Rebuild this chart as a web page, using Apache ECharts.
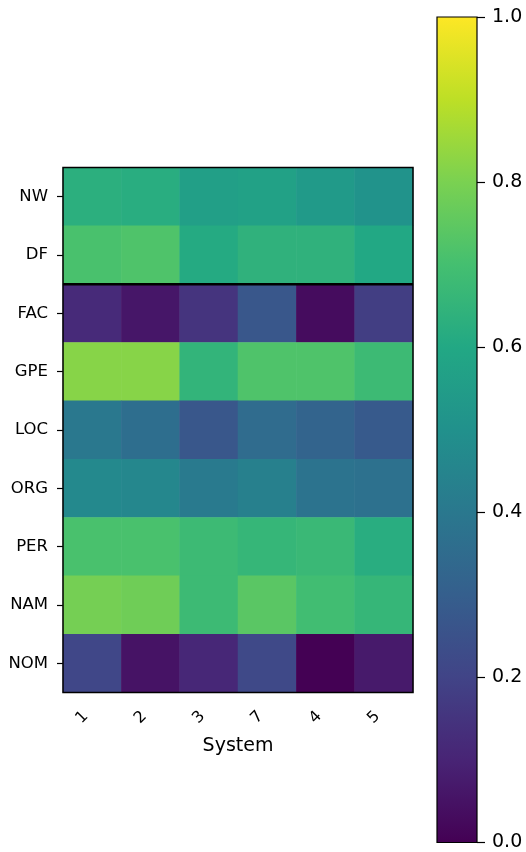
<!DOCTYPE html>
<html><head><meta charset="utf-8">
<script src="https://cdn.jsdelivr.net/npm/echarts@6/dist/echarts.min.js"></script>
<style>html,body{margin:0;padding:0;background:#fff}#c{width:526px;height:852px}</style>
</head><body><div id="c"></div>
<script>
const systems = ['1','2','3','7','4','5'];
const rows = ['NW','DF','FAC','GPE','LOC','ORG','PER','NAM','NOM'];
const NW  = [0.63,0.62,0.56,0.57,0.54,0.51];
const DF  = [0.71,0.72,0.61,0.64,0.64,0.60];
const FAC = [0.12,0.06,0.15,0.27,0.03,0.18];
const GPE = [0.82,0.82,0.65,0.72,0.72,0.68];
const LOC = [0.40,0.36,0.27,0.35,0.32,0.28];
const ORG = [0.47,0.46,0.41,0.43,0.38,0.37];
const PER = [0.71,0.71,0.68,0.66,0.67,0.62];
const NAM = [0.79,0.78,0.68,0.74,0.69,0.66];
const NOM = [0.21,0.05,0.11,0.22,0.00,0.07];
const values = [NW,DF,FAC,GPE,LOC,ORG,PER,NAM,NOM];
const cbTicks = [0,0.2,0.4,0.6,0.8,1.0];
const viridis = ['#440154','#482475','#414487','#355f8d','#2a788e','#21918c','#22a884','#44bf70','#7ad151','#bddf26','#fde725'];
const separatorBefore = 'FAC';

const data = [];
values.forEach((r,ri)=>r.forEach((v,ci)=>data.push([ci,ri,v])));
const sepIdx = rows.indexOf(separatorBefore);

const font = 'DejaVu Sans';
const chart = echarts.init(document.getElementById('c'));
chart.setOption({
  animation:false,
  textStyle:{fontFamily:font},
  grid:[
    {left:63,top:167.5,width:350,height:525,show:true,z:10,borderColor:'#000',borderWidth:1.5,backgroundColor:'transparent'},
    {left:437,top:17,width:40,height:827,show:true,z:10,borderColor:'#000',borderWidth:1.2,backgroundColor:'transparent'}
  ],
  xAxis:[
    {type:'category',gridIndex:0,data:systems,
     axisLine:{show:false},
     axisTick:{show:true,alignWithLabel:true,length:6,lineStyle:{color:'#000',width:1.2}},
     axisLabel:{rotate:45,color:'#000',fontSize:16,margin:15,padding:[0,9,0,0]},
     splitLine:{show:false},
     name:'System',nameLocation:'middle',nameGap:44,nameTextStyle:{fontSize:19,color:'#000'}},
    {type:'category',gridIndex:1,data:['cb'],show:false},
    {type:'value',gridIndex:0,min:0,max:systems.length,show:false}
  ],
  yAxis:[
    {type:'category',gridIndex:0,data:rows,inverse:true,
     axisLine:{show:false},
     axisTick:{show:true,alignWithLabel:true,length:6,lineStyle:{color:'#000',width:1.2}},
     axisLabel:{color:'#000',fontSize:16.5,margin:15},
     splitLine:{show:false}},
    {type:'value',gridIndex:1,min:cbTicks[0],max:cbTicks[cbTicks.length-1],interval:0.2,position:'right',
     axisLine:{show:false},
     axisTick:{show:true,length:8,lineStyle:{color:'#000',width:1.2}},
     axisLabel:{color:'#000',fontSize:19,margin:15,formatter:v=>v.toFixed(1)},
     splitLine:{show:false}},
    {type:'value',gridIndex:0,min:0,max:rows.length,inverse:true,show:false}
  ],
  visualMap:{show:false,min:0,max:1,seriesIndex:0,inRange:{color:viridis}},
  series:[
    {type:'heatmap',xAxisIndex:0,yAxisIndex:0,data:data},
    {type:'bar',xAxisIndex:1,yAxisIndex:1,data:[1],barWidth:'100%',silent:true,
     itemStyle:{color:new echarts.graphic.LinearGradient(0,1,0,0,viridis.map((c,i)=>({offset:i/(viridis.length-1),color:c})))}},
    {type:'line',xAxisIndex:2,yAxisIndex:2,data:[[0,sepIdx],[systems.length,sepIdx]],symbol:'none',silent:true,z:5,
     lineStyle:{color:'#000',width:2.5}}
  ]
});
</script></body></html>
